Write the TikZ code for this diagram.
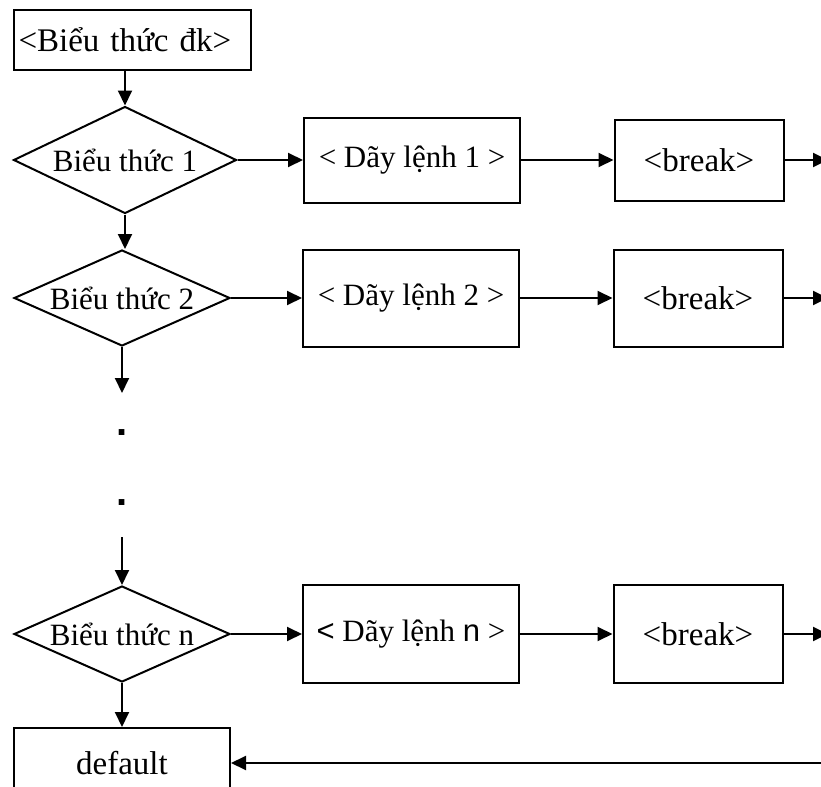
\documentclass[tikz,border=0pt]{standalone}
\usepackage{fontspec}
\setmainfont{Liberation Serif}
\newfontfamily\sansf{Liberation Sans}
\usetikzlibrary{shapes.geometric,arrows.meta,positioning}

\begin{document}
\begin{tikzpicture}[
        x=0.5pt, y=-0.5pt,
        node distance=143.5pt,
        every node/.style={font=\fontsize{15.5}{18}\selectfont, line width=1pt},
        hop/.style={draw, rectangle, minimum width=108pt, inner sep=2pt},
        dieukien/.style={draw, diamond, inner sep=0pt, minimum width=108pt, minimum height=48pt},
        lon/.style={font=\fontsize{16.5}{20}\selectfont},
        cham/.style={inner sep=0pt, font=\fontsize{20}{22}\selectfont\sansf\bfseries},
        muiten/.style={-{Triangle[length=7.5pt,width=7pt]}, line width=1pt}
    ]
    \useasboundingbox (0,0) rectangle (821,787);
    \coordinate (rim) at (828,0);

    \node (dk) [hop, lon, minimum width=118.5pt, minimum height=30pt, text width=114pt, align=left, inner xsep=1pt] at (132.5,40) {<Biểu thức đk>};
    \node (d1) [dieukien, minimum width=111.5pt, minimum height=53.5pt] at (125,160) {\makebox[0pt]{Biểu thức 1}};
    \node (d2) [dieukien] at (122,298) {\makebox[0pt]{Biểu thức 2}};
    \node (dn) [dieukien] at (122,634) {\makebox[0pt]{Biểu thức n}};
    \node (df) [hop, lon, minimum height=35pt] at (122,763) {default};

    \node (l1) [hop, minimum height=42.5pt, right of=d1] {< Dãy lệnh 1 >};
    \node (b1) [hop, lon, minimum width=84.5pt, minimum height=40.5pt, right of=l1] {<break>};
    \node (l2) [hop, minimum height=48.5pt, right of=d2, xshift=1pt] {< Dãy lệnh 2 >};
    \node (b2) [hop, lon, minimum width=84.5pt, minimum height=48.5pt, right of=l2] {<break>};
    \node (ln) [hop, minimum height=49pt, right of=dn, xshift=1pt] {{\sansf<} Dãy lệnh {\sansf n} >};
    \node (bn) [hop, lon, minimum width=84.5pt, minimum height=49pt, right of=ln] {<break>};

    \coordinate (gap1) at (122,393);
    \node (dot1) [cham] at (122,433) {.};
    \node (dot2) [cham] at (122,503) {.};
    \coordinate (gap2) at (122,537);

    \draw [muiten] (d1.north |- dk.south) -- (d1.north);
    \draw [muiten] (d1.south) -- (d1.south |- d2.north);
    \draw [muiten] (d2.south) -- (gap1);
    \draw [muiten] (gap2) -- (dn.north);
    \draw [muiten] (dn.south) -- (df.north);

    \draw [muiten] (d1.east) -- (l1.west);
    \draw [muiten] (l1.east) -- (b1.west);
    \draw [muiten] (b1.east) -- (b1.east -| rim);
    \draw [muiten] (d2.east) -- (l2.west);
    \draw [muiten] (l2.east) -- (b2.west);
    \draw [muiten] (b2.east) -- (b2.east -| rim);
    \draw [muiten] (dn.east) -- (ln.west);
    \draw [muiten] (ln.east) -- (bn.west);
    \draw [muiten] (bn.east) -- (bn.east -| rim);
    \draw [muiten] (df.east -| rim) -- (df.east);
\end{tikzpicture}
\end{document}
